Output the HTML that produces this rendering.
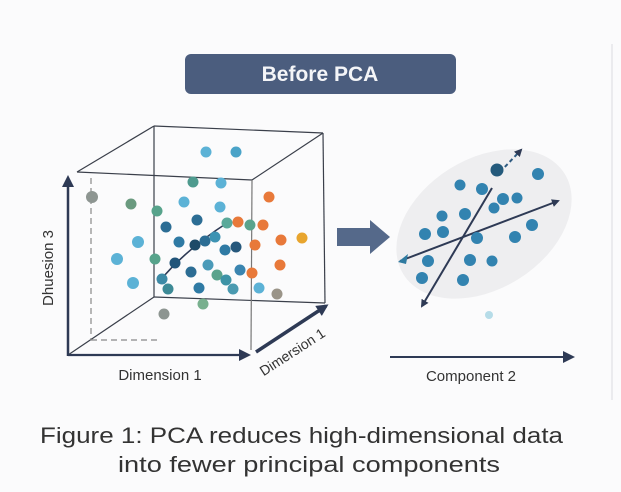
<!DOCTYPE html>
<html><head><meta charset="utf-8"><style>
html,body{margin:0;padding:0;background:#fbfbfc;}
svg{display:block;font-family:"Liberation Sans","DejaVu Sans",sans-serif;}
</style></head><body>
<svg width="621" height="492" viewBox="0 0 621 492" xmlns="http://www.w3.org/2000/svg">
<defs>
<marker id="ah" markerWidth="8" markerHeight="8" refX="6" refY="4" orient="auto" markerUnits="userSpaceOnUse"><path d="M0,0 L8,4 L0,8 Z" fill="#2e3a55"/></marker>
<marker id="ahb" markerWidth="12" markerHeight="12" refX="9" refY="6" orient="auto" markerUnits="userSpaceOnUse"><path d="M0,0 L12,6 L0,12 Z" fill="#2e3a55"/></marker>
</defs>
<rect width="621" height="492" fill="#fbfbfc"/>
<line x1="612" y1="44" x2="612" y2="400" stroke="#e6e6ea" stroke-width="1.5"/>
<rect x="185" y="54" width="271" height="40" rx="6" fill="#4b5d7e"/>
<text x="320" y="81" text-anchor="middle" font-size="21" font-weight="bold" fill="#f4f5f8">Before PCA</text>

<g stroke="#3a3f4a" stroke-width="1.2" fill="none">
<line x1="154" y1="126" x2="323" y2="133"/>
<line x1="154" y1="126" x2="77" y2="172"/>
<line x1="323" y1="133" x2="252" y2="180"/>
<line x1="77" y1="172" x2="252" y2="180"/>
<line x1="154" y1="126" x2="154" y2="297"/>
<line x1="154" y1="297" x2="325" y2="303"/>
<line x1="323" y1="133" x2="325" y2="303"/>
<line x1="154" y1="297" x2="68" y2="355"/>
<line x1="252" y1="180" x2="251" y2="350" stroke="#777"/>
</g>
<g stroke="#888" stroke-width="1.2" stroke-dasharray="6,4" fill="none">
<line x1="91" y1="178" x2="91" y2="340"/>
<line x1="91" y1="340" x2="160" y2="340"/>
</g>
<line x1="68" y1="356" x2="68" y2="178" stroke="#2e3a55" stroke-width="2.5" marker-end="url(#ahb)"/>
<line x1="68" y1="355" x2="248" y2="355" stroke="#2e3a55" stroke-width="2.2" marker-end="url(#ahb)"/>
<line x1="256" y1="352" x2="326" y2="306" stroke="#2e3a55" stroke-width="3.5" marker-end="url(#ahb)"/>
<path d="M158,283 Q185,250 227,223" stroke="#2e3a55" stroke-width="1.6" fill="none"/>

<g>
<circle cx="206" cy="152" r="5.5" fill="#5cb2d6"/><circle cx="236" cy="152" r="5.5" fill="#4aa3c8"/>
<circle cx="193" cy="182" r="5.5" fill="#4e9a8e"/><circle cx="221" cy="183" r="5.5" fill="#5cb2d6"/>
<circle cx="92" cy="197" r="6" fill="#8d9591"/><circle cx="131" cy="204" r="5.5" fill="#6a9a7f"/>
<circle cx="184" cy="202" r="5.5" fill="#5cb2d6"/><circle cx="220" cy="207" r="5.5" fill="#5cb2d6"/>
<circle cx="269" cy="197" r="5.5" fill="#e8793a"/><circle cx="157" cy="211" r="5.5" fill="#57a38b"/>
<circle cx="197" cy="220" r="5.5" fill="#2c6d94"/><circle cx="166" cy="227" r="5.5" fill="#2c6d94"/>
<circle cx="227" cy="223" r="5.5" fill="#5aa99a"/><circle cx="238" cy="222" r="5.5" fill="#e8793a"/>
<circle cx="250" cy="225" r="5.5" fill="#5aa38c"/><circle cx="263" cy="225" r="5.5" fill="#e8793a"/>
<circle cx="138" cy="242" r="6" fill="#5cb2d6"/><circle cx="179" cy="242" r="5.5" fill="#2f7aa4"/>
<circle cx="195" cy="245" r="5.5" fill="#1d4a68"/><circle cx="205" cy="241" r="5.5" fill="#2c6d94"/>
<circle cx="215" cy="237" r="5.5" fill="#3d93b3"/><circle cx="225" cy="250" r="5.5" fill="#2f7aa4"/>
<circle cx="236" cy="247" r="5.5" fill="#26587c"/><circle cx="255" cy="245" r="5.5" fill="#e8793a"/>
<circle cx="281" cy="240" r="5.5" fill="#e8793a"/><circle cx="302" cy="238" r="5.5" fill="#e8a52e"/>
<circle cx="117" cy="259" r="6" fill="#5cb2d6"/><circle cx="155" cy="259" r="5.5" fill="#57a38b"/>
<circle cx="175" cy="263" r="5.5" fill="#21557a"/><circle cx="208" cy="265" r="5.5" fill="#4a9ab8"/>
<circle cx="191" cy="272" r="5.5" fill="#2c6d94"/><circle cx="217" cy="275" r="5.5" fill="#5aa38c"/>
<circle cx="240" cy="270" r="5.5" fill="#3a85b0"/><circle cx="252" cy="273" r="5.5" fill="#e8793a"/>
<circle cx="280" cy="265" r="5.5" fill="#e8793a"/>
<circle cx="133" cy="283" r="6" fill="#5cb2d6"/><circle cx="162" cy="279" r="5.5" fill="#3d8aa6"/>
<circle cx="168" cy="289" r="5.5" fill="#3d8a96"/><circle cx="199" cy="288" r="5.5" fill="#2f7aa4"/>
<circle cx="226" cy="280" r="5.5" fill="#3d93a6"/><circle cx="233" cy="289" r="5.5" fill="#4a9ab0"/>
<circle cx="259" cy="288" r="5.5" fill="#5cb2d6"/><circle cx="277" cy="294" r="5.5" fill="#9a9488"/>
<circle cx="203" cy="304" r="5.5" fill="#78b08e"/><circle cx="164" cy="314" r="5.5" fill="#8d9591"/>
</g>

<text transform="translate(53,268) rotate(-90)" text-anchor="middle" font-size="15" fill="#333">Dhuesion 3</text>
<text x="160" y="380" text-anchor="middle" font-size="15" fill="#333">Dimension 1</text>
<text transform="translate(295,356) rotate(-33)" text-anchor="middle" font-size="14" fill="#333">Dimersion 1</text>

<path d="M337,228 L370,228 L370,220 L390,237 L370,254 L370,246 L337,246 Z" fill="#55698a"/>

<ellipse cx="484" cy="224" rx="95" ry="65" transform="rotate(-32 484 224)" fill="#eeeef0"/>
<line x1="400" y1="261" x2="558" y2="201" stroke="#2e3a55" stroke-width="2" marker-end="url(#ah)"/>
<path d="M398,262 L408,254 L406,264 Z" fill="#2e7aa0"/>
<line x1="492" y1="188" x2="422" y2="306" stroke="#2e3a55" stroke-width="2" marker-end="url(#ah)"/>
<line x1="500" y1="172" x2="521" y2="150" stroke="#2e5a80" stroke-width="2" stroke-dasharray="4,3" marker-end="url(#ah)"/>
<g fill="#3283b0">
<circle cx="460" cy="185" r="5.5"/><circle cx="482" cy="189" r="6"/><circle cx="497" cy="170" r="6.5" fill="#245a7c"/>
<circle cx="538" cy="174" r="6"/><circle cx="503" cy="199" r="6"/><circle cx="517" cy="198" r="5.5"/>
<circle cx="494" cy="208" r="5.5"/><circle cx="442" cy="216" r="5.5"/><circle cx="465" cy="214" r="6"/>
<circle cx="425" cy="234" r="6"/><circle cx="443" cy="232" r="6"/><circle cx="477" cy="238" r="6"/>
<circle cx="515" cy="237" r="6"/><circle cx="532" cy="225" r="6"/><circle cx="428" cy="261" r="6"/>
<circle cx="470" cy="260" r="6"/><circle cx="492" cy="261" r="5.5"/><circle cx="422" cy="278" r="6"/>
<circle cx="463" cy="280" r="6"/><circle cx="489" cy="315" r="4" fill="#b6dce8"/>
</g>
<line x1="390" y1="357" x2="572" y2="357" stroke="#2e3a55" stroke-width="2" marker-end="url(#ahb)"/>
<text x="471" y="381" text-anchor="middle" font-size="15" fill="#333">Component 2</text>

<text x="40" y="443" font-size="22" fill="#333" textLength="523" lengthAdjust="spacingAndGlyphs">Figure 1: PCA reduces high-dimensional data</text>
<text x="118" y="472" font-size="22" fill="#333" textLength="382" lengthAdjust="spacingAndGlyphs">into fewer principal components</text>
</svg>
</body></html>
